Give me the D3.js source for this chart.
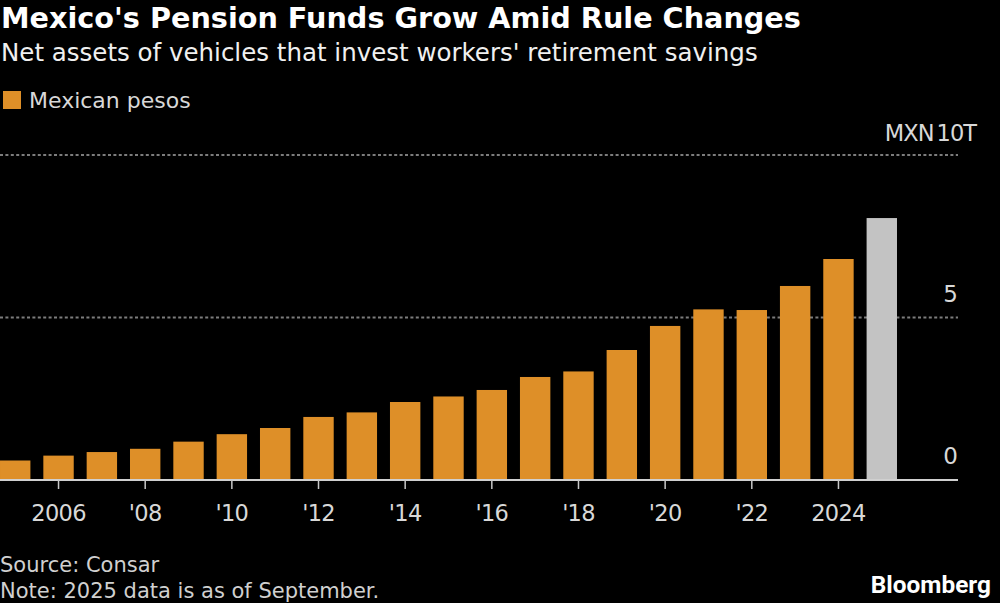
<!DOCTYPE html>
<html><head><meta charset="utf-8">
<script src="https://cdn.jsdelivr.net/npm/d3@7"></script>
<style>html,body{margin:0;padding:0;background:#000}svg{display:block}text{font-family:"DejaVu Sans",sans-serif}</style>
</head><body><svg id="c" width="1000" height="603"></svg>
<script>
const years=[2005,2006,2007,2008,2009,2010,2011,2012,2013,2014,2015,2016,2017,2018,2019,2020,2021,2022,2023,2024,2025];
const assets=[0.6,0.75,0.86,0.96,1.18,1.41,1.6,1.94,2.08,2.4,2.57,2.77,3.17,3.34,4.0,4.74,5.25,5.23,5.97,6.8,8.06];
const tickYears=[2006,2008,2010,2012,2014,2016,2018,2020,2022,2024];
const tickLabels=["2006","'08","'10","'12","'14","'16","'18","'20","'22","2024"];
const gridVals=[5,10];
const yLabels=[[0,"0"],[5,"5"]];
const unitLabel="MXN 10T";
const svg=d3.select("#c");
const x=d3.scaleBand().domain(years).range([-6.45,903.45]).paddingInner(0.2985).paddingOuter(0.149);
const y=d3.scaleLinear().domain([0,10]).range([480,155]);
svg.append("g").selectAll("line").data(gridVals).join("line")
 .attr("x1",0).attr("x2",958).attr("y1",d=>y(d)).attr("y2",d=>y(d))
 .attr("stroke","#7c7c7c").attr("stroke-width",2).attr("stroke-dasharray","3 2.4");
svg.append("g").selectAll("rect").data(years).join("rect")
 .attr("x",d=>x(d)).attr("width",x.bandwidth())
 .attr("y",(d,i)=>y(assets[i])).attr("height",(d,i)=>y(0)-y(assets[i]))
 .attr("fill",d=>d===2025?"#c3c3c3":"#de8f28");
svg.append("line").attr("x1",0).attr("x2",958).attr("y1",y(0)).attr("y2",y(0)).attr("stroke","#d0d0d0").attr("stroke-width",2);
svg.append("g").selectAll("line").data(tickYears).join("line")
 .attr("x1",d=>x(d)+x.bandwidth()/2).attr("x2",d=>x(d)+x.bandwidth()/2).attr("y1",480).attr("y2",489)
 .attr("stroke","#c8c8c8").attr("stroke-width",1.5);
svg.append("g").selectAll("text").data(tickYears).join("text")
 .attr("x",d=>x(d)+x.bandwidth()/2).attr("y",521).attr("text-anchor","middle")
 .attr("font-size",22.5).attr("letter-spacing",-0.7).attr("fill","#d8d8d8").text((d,i)=>tickLabels[i]);
svg.append("g").selectAll("text").data(yLabels).join("text")
 .attr("x",958).attr("y",d=>y(d[0])-16).attr("text-anchor","end")
 .attr("font-size",23).attr("fill","#d8d8d8").text(d=>d[1]);
svg.append("text").attr("x",976).attr("y",141).attr("text-anchor","end")
 .attr("font-size",22.5).attr("letter-spacing",-1).attr("word-spacing",-3).attr("fill","#d8d8d8").text(unitLabel);
const txt=(s,px,py,fs,fw,fill,anchor)=>svg.append("text").attr("x",px).attr("y",py).attr("font-size",fs).attr("font-weight",fw).attr("fill",fill).attr("text-anchor",anchor||"start").text(s);
txt("Mexico's Pension Funds Grow Amid Rule Changes",1,28,28.7,"bold","#fff");
txt("Net assets of vehicles that invest workers' retirement savings",1,61,24.5,"normal","#f0f0f0");
svg.append("rect").attr("x",3).attr("y",91).attr("width",18).attr("height",18).attr("fill","#de8f28");
txt("Mexican pesos",29,108,22,"normal","#d8d8d8");
txt("Source: Consar",0,572,21,"normal","#d0d0d0");
txt("Note: 2025 data is as of September.",0,598,21,"normal","#d0d0d0");
svg.append("text").attr("x",991).attr("y",592.5).attr("text-anchor","end").attr("font-size",24.4).attr("font-weight","bold").attr("fill","#fff").style("font-family","Roboto, sans-serif").text("Bloomberg");
</script></body></html>
